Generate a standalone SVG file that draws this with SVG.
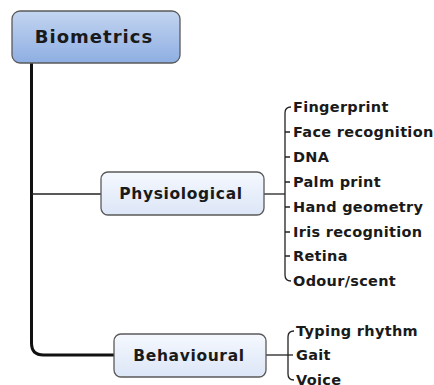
<svg xmlns="http://www.w3.org/2000/svg" width="434" height="385" viewBox="0 0 434 385">
<defs>
<linearGradient id="gRoot" x1="0" y1="0" x2="0" y2="1">
<stop offset="0" stop-color="#c3d5f0"/><stop offset="1" stop-color="#8eaee2"/>
</linearGradient>
<linearGradient id="gSub" x1="0" y1="0" x2="0" y2="1">
<stop offset="0" stop-color="#f5f8fe"/><stop offset="1" stop-color="#dce6f7"/>
</linearGradient>
</defs>
<style>
text{font-family:"DejaVu Sans",Verdana,sans-serif;font-weight:bold;fill:#1a1a1a}
.root{font-size:18px;letter-spacing:1px}
.sub{font-size:15.5px;letter-spacing:0.65px}
.leaf{font-size:14.5px;letter-spacing:0.3px}
.box{stroke:#5a5a5a;stroke-width:1.3}
.ln{fill:none;stroke:#222;stroke-width:1.3}
</style>
<g id="connectors">
<path d="M31.5,63 V343 Q31.5,355 43.5,355 H114" fill="none" stroke="#111" stroke-width="3"/>
<path class="ln" d="M31.5,194 H101"/>
<path class="ln" d="M264,194 H285"/>
<path class="ln" d="M291,107 Q285,107 285,113 V275 Q285,281 291,281"/>
<path class="ln" d="M285,132 H290 M285,157 H290 M285,182 H290 M285,207 H290 M285,232 H290 M285,256 H290"/>
<path class="ln" d="M266,355 H288"/>
<path class="ln" d="M294,331 Q288,331 288,337 V374 Q288,380 294,380"/>
<path class="ln" d="M288,355 H293"/>
</g>
<g id="biometrics">
<rect class="box" x="12" y="11" width="168" height="52" rx="8" fill="url(#gRoot)"/>
<text class="root" x="94" y="43" text-anchor="middle">Biometrics</text>
</g>
<g id="physiological">
<rect class="box" x="101" y="172" width="163" height="43" rx="7" fill="url(#gSub)"/>
<text class="sub" x="181" y="199" text-anchor="middle">Physiological</text>
</g>
<g id="behavioural">
<rect class="box" x="114" y="334" width="152" height="43" rx="7" fill="url(#gSub)"/>
<text class="sub" x="189" y="361" text-anchor="middle">Behavioural</text>
</g>
<g id="fingerprint"><text class="leaf" x="293" y="112">Fingerprint</text></g>
<g id="face-recognition"><text class="leaf" x="293" y="137">Face recognition</text></g>
<g id="dna"><text class="leaf" x="293" y="162">DNA</text></g>
<g id="palm-print"><text class="leaf" x="293" y="187">Palm print</text></g>
<g id="hand-geometry"><text class="leaf" x="293" y="212">Hand geometry</text></g>
<g id="iris-recognition"><text class="leaf" x="293" y="237">Iris recognition</text></g>
<g id="retina"><text class="leaf" x="293" y="261">Retina</text></g>
<g id="odour-scent"><text class="leaf" x="293" y="286">Odour/scent</text></g>
<g id="typing-rhythm"><text class="leaf" x="296" y="336">Typing rhythm</text></g>
<g id="gait"><text class="leaf" x="296" y="360">Gait</text></g>
<g id="voice"><text class="leaf" x="296" y="385">Voice</text></g>
</svg>
